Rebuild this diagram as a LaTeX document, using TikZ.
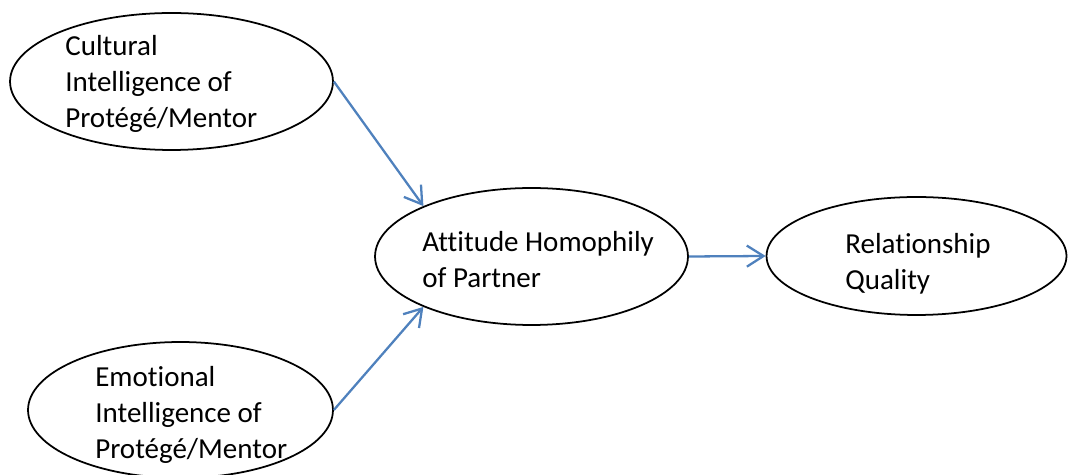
\documentclass[tikz,border=0pt]{standalone}
\usepackage{fontspec}
\setmainfont{Carlito}[Ligatures=NoCommon]
\usepackage{xcolor}
\usetikzlibrary{arrows.meta, shapes.geometric}
\definecolor{linkblue}{HTML}{4F81BD}
\tikzstyle{oval}=[draw, ellipse, line width=1pt, inner sep=0pt]
\tikzstyle{txt}=[align=left, inner sep=0pt, anchor=west, font=\fontsize{16.5pt}{20.5pt}\selectfont]
\tikzstyle{link}=[-{Straight Barb[length=9.5pt, width=12pt]}, line width=1.3pt, linkblue]

\begin{document}
\begin{tikzpicture}[x=0.02cm, y=-0.02cm]
        \useasboundingbox (0,0) rectangle (1068,475);

        % Ovals
        \node[oval, minimum width=6.46cm, minimum height=2.74cm] (cult) at (171.5,81.5) {};
        \node[oval, minimum width=6.10cm, minimum height=2.72cm] (emo) at (180.5,410) {};
        \node[oval, minimum width=6.26cm, minimum height=2.74cm] (att) at (531.5,256.5) {};
        \node[oval, minimum width=6.00cm, minimum height=2.36cm] (rel) at (916.5,256) {};

        % Labels
        \node[txt] (cultT) at (65,84) {Cultural\\Intelligence of\\Protégé/Mentor};
        \node[txt] (emoT) at (95,415) {Emotional\\Intelligence of\\Protégé/Mentor};
        \node[txt] (attT) at (422,260) {Attitude Homophily\\of Partner};
        \node[txt] (relT) at (845,263.5) {Relationship\\Quality};

        % Links
        \draw[link] (cult.east) -- (att.155);
        \draw[link] (emo.east) -- (att.205);
        \draw[link] (att.east) -- (rel.west);

    \end{tikzpicture}
\end{document}
